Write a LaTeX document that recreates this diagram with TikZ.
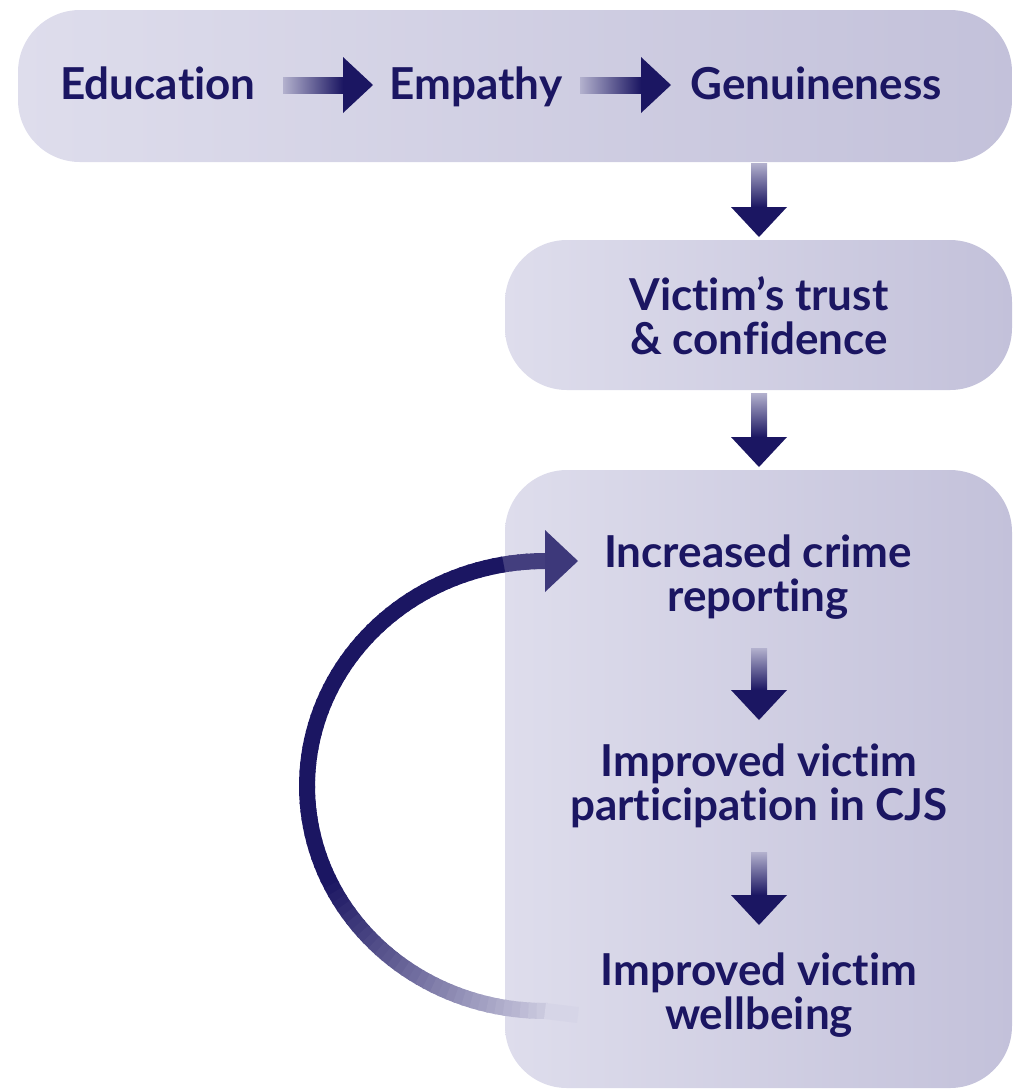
\documentclass[tikz,border=0pt]{standalone}
\usepackage{fontspec}
\setmainfont{Lato}[Ligatures={TeX,NoCommon}]
\usetikzlibrary{calc}
\definecolor{navy}{HTML}{1B1662}
\definecolor{boxlight}{HTML}{DEDDEC}
\definecolor{boxdark}{HTML}{C3C1DA}
\definecolor{arcfade}{HTML}{E2E1EF}

\begin{document}
\begin{tikzpicture}[
  x=0.5pt,
  y=-0.5pt,
  line join=round,
  panel/.style={draw=none,rounded corners=31pt,
    shading=axis,shading angle=135,left color=boxlight,right color=boxdark},
  label/.style={text=navy,font=\fontsize{22}{22}\selectfont\bfseries,
    align=center,inner sep=0pt},
  shaftH/.style={left color=navy!22!boxlight,right color=navy},
  shaftV/.style={top color=navy!22!boxlight,bottom color=navy},
  head/.style={fill=navy}
]
  \useasboundingbox (0,0) rectangle (1017,1089);

  % Panels behind the chain of effects.
  \path[panel] (18,10) rectangle (1012,162);
  \path[panel] (505,240) rectangle (1012,390);
  \path[panel] (505,470) rectangle (1012,1088);

  % Text of each step.
  \node[label,anchor=base] (edu) at (158,99) {Education};
  \node[label,anchor=base] (emp) at (476,99) {Empathy};
  \node[label,anchor=base] (gen) at (816,99) {Genuineness};
  \node[label] (vic) at (759,316) {Victim’s trust\\\& confidence};
  \node[label] (rep) at (758,577) {Increased crime\\reporting};
  \node[label] (part) at (759,786) {Improved victim\\participation in CJS};
  \node[label] (well) at (759,995) {Improved victim\\wellbeing};

  % Arrow ends.
  \coordinate (e1s) at (283,85);  \coordinate (e1t) at (373,85);
  \coordinate (e2s) at (580,85);  \coordinate (e2t) at (671,85);
  \coordinate (d1s) at (759,163); \coordinate (d1t) at (759,237);
  \coordinate (d2s) at (759,393); \coordinate (d2t) at (759,467);
  \coordinate (d3s) at (759,648); \coordinate (d3t) at (759,720);
  \coordinate (d4s) at (759,852); \coordinate (d4t) at (759,925);

  % Horizontal block arrows: faded shaft, solid head.
  \foreach \s/\t in {e1s/e1t,e2s/e2t} {
    \shade[shaftH] ($(\s)+(0,-8)$) rectangle ($(\t)+(-30,8)$);
    \fill[head] ($(\t)+(-30,-28)$) -- (\t) -- ($(\t)+(-30,28)$) -- cycle;
  }
  % Vertical block arrows.
  \foreach \s/\t in {d1s/d1t,d2s/d2t,d3s/d3t,d4s/d4t} {
    \shade[shaftV] ($(\s)+(-8,0)$) rectangle ($(\t)+(8,-30)$);
    \fill[head] ($(\t)+(-28,-30)$) -- (\t) -- ($(\t)+(28,-30)$) -- cycle;
  }

  % Feedback loop from wellbeing back to reporting, fading towards its tail.
  \coordinate (loopS) at (578,1015);
  \coordinate (loopE) at (578,561);
  \foreach \a in {90,92,...,268} {
    \pgfmathtruncatemacro\f{\a<100 ? 80 : (\a<205 ? 100 : 100-(\a-205)*90/65)}
    \draw[navy!\f!arcfade,line width=8pt]
      ({545+238*cos(\a)},{786-225*sin(\a)}) -- ({545+238*cos(\a+2.6)},{786-225*sin(\a+2.6)});
  }
  \draw[navy!6!arcfade,line width=8pt] (545,1011) -- (loopS);
  \fill[navy!80!boxdark] (545,530) -- (loopE) -- (545,592) -- cycle;
\end{tikzpicture}
\end{document}
